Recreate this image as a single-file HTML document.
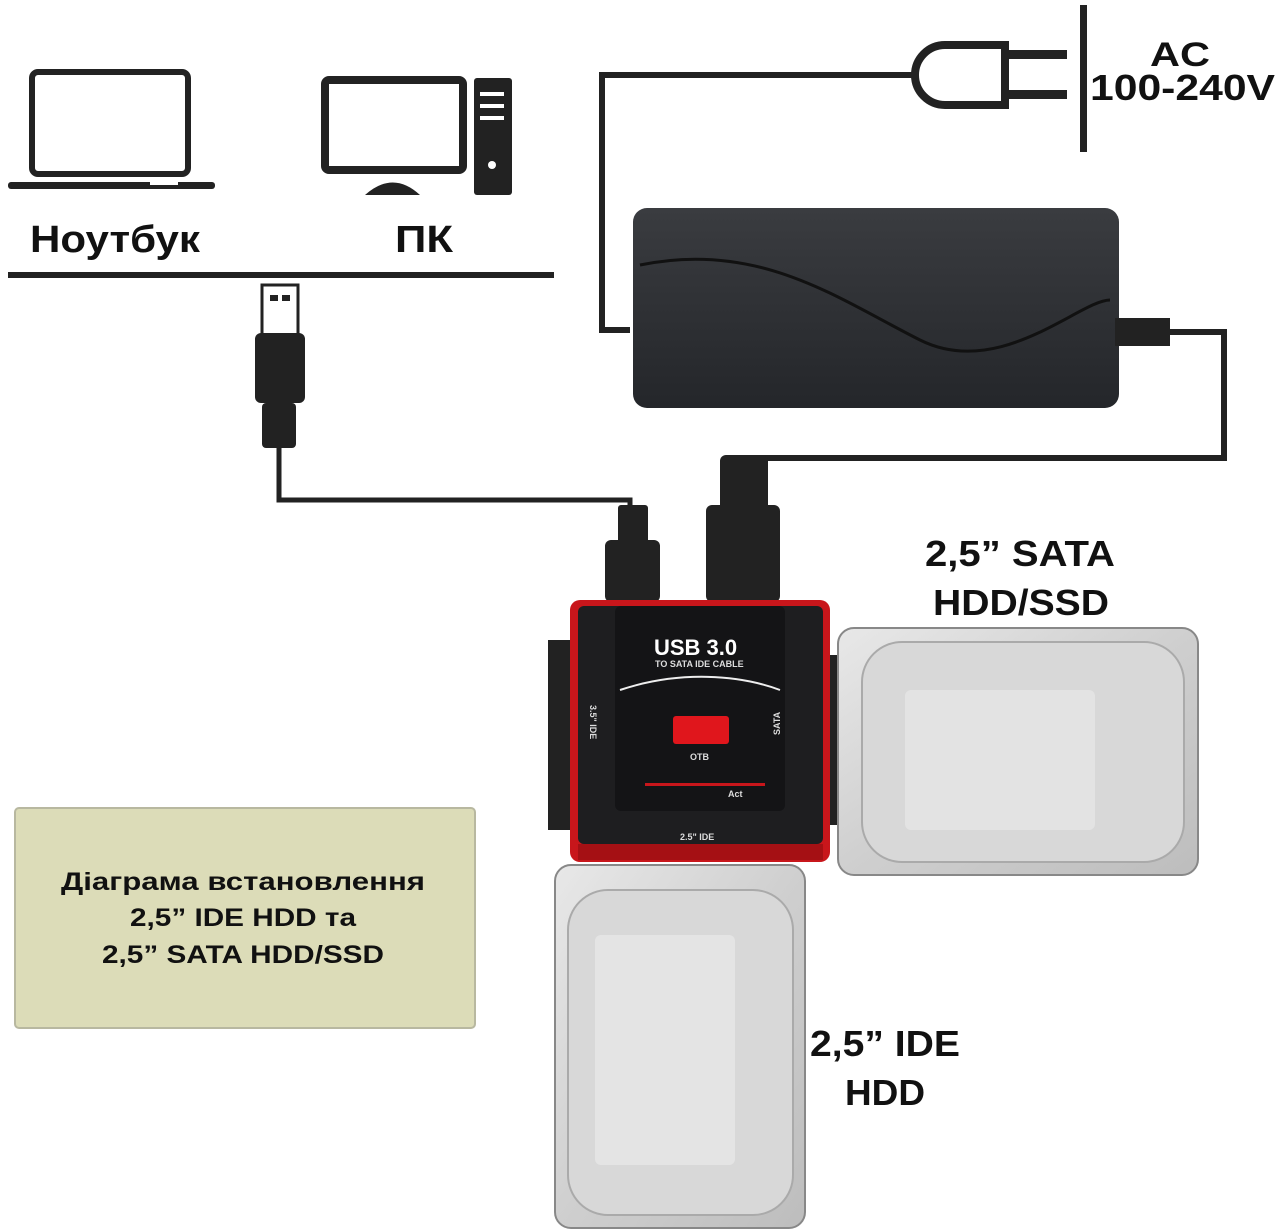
<!DOCTYPE html>
<html><head><meta charset="utf-8"><style>
html,body{margin:0;padding:0;background:#fff;width:1280px;height:1232px;overflow:hidden}
svg{display:block}
text{font-family:"Liberation Sans",sans-serif;font-weight:bold;fill:#111}
</style></head><body>
<svg width="1280" height="1232" viewBox="0 0 1280 1232">
<defs>
<linearGradient id="hdd" x1="0" y1="0" x2="1" y2="1"><stop offset="0" stop-color="#e8e8e8"/><stop offset="0.5" stop-color="#cfcfcf"/><stop offset="1" stop-color="#bdbdbd"/></linearGradient>
<linearGradient id="brick" x1="0" y1="0" x2="0" y2="1"><stop offset="0" stop-color="#3a3c40"/><stop offset="1" stop-color="#24262a"/></linearGradient>
</defs>
<rect x="32" y="72" width="156" height="102" rx="6" fill="none" stroke="#222" stroke-width="6"/>
<rect x="8" y="182" width="207" height="7" rx="3" fill="#222"/>
<rect x="150" y="182" width="28" height="3" fill="#fff"/>
<rect x="325" y="80" width="138" height="90" rx="4" fill="none" stroke="#222" stroke-width="8"/>
<path d="M365 195 Q393 170 420 195 Z" fill="#222"/>
<rect x="474" y="78" width="38" height="117" rx="3" fill="#222"/>
<rect x="480" y="92" width="24" height="4" fill="#fff"/><rect x="480" y="104" width="24" height="4" fill="#fff"/><rect x="480" y="116" width="24" height="4" fill="#fff"/>
<circle cx="492" cy="165" r="4" fill="#fff"/>
<text x="30" y="252" font-size="38" textLength="170" lengthAdjust="spacingAndGlyphs">Ноутбук</text>
<text x="395" y="252" font-size="38" textLength="58" lengthAdjust="spacingAndGlyphs">ПК</text>
<rect x="8" y="272" width="546" height="6" fill="#222"/>
<rect x="262" y="285" width="36" height="50" fill="#fff" stroke="#222" stroke-width="3"/>
<rect x="270" y="295" width="8" height="6" fill="#222"/><rect x="282" y="295" width="8" height="6" fill="#222"/>
<rect x="255" y="333" width="50" height="70" rx="6" fill="#222"/>
<rect x="262" y="403" width="34" height="45" rx="4" fill="#222"/>
<path d="M279 448 V500 H630 V520" fill="none" stroke="#222" stroke-width="5"/>
<rect x="618" y="505" width="30" height="40" rx="3" fill="#222"/>
<rect x="605" y="540" width="55" height="62" rx="6" fill="#222"/>
<path d="M630 330 H602 V75 H915" fill="none" stroke="#222" stroke-width="6"/>
<path d="M945 45 H1005 V105 H945 A30 30 0 0 1 945 45 Z" fill="#fff" stroke="#222" stroke-width="8"/>
<rect x="1005" y="50" width="62" height="9" fill="#222"/><rect x="1005" y="90" width="62" height="9" fill="#222"/>
<rect x="1080" y="5" width="7" height="147" fill="#222"/>
<text x="1150" y="66" font-size="34" textLength="60" lengthAdjust="spacingAndGlyphs">AC</text>
<text x="1090" y="100" font-size="36" textLength="185" lengthAdjust="spacingAndGlyphs">100-240V</text>
<rect x="633" y="208" width="486" height="200" rx="14" fill="url(#brick)"/>
<path d="M640 265 C760 240 840 300 920 340 C1000 380 1080 300 1110 300" fill="none" stroke="#111" stroke-width="3"/>
<rect x="1115" y="318" width="55" height="28" fill="#222"/>
<path d="M1168 332 H1224 V458 H742 V470" fill="none" stroke="#222" stroke-width="6"/>
<rect x="720" y="455" width="48" height="60" rx="6" fill="#222"/>
<rect x="706" y="505" width="74" height="97" rx="6" fill="#222"/>
<rect x="548" y="640" width="25" height="190" fill="#222"/>
<rect x="826" y="655" width="14" height="170" fill="#222"/>
<rect x="570" y="600" width="260" height="262" rx="10" fill="#c8161b"/>
<rect x="578" y="606" width="245" height="238" rx="6" fill="#1e1e20"/>
<rect x="615" y="606" width="170" height="205" rx="6" fill="#141416"/>
<rect x="578" y="844" width="245" height="16" fill="#a51014"/>
<text x="654" y="655" font-size="22" style="fill:#fff">USB 3.0</text>
<text x="655" y="667" font-size="9" style="fill:#ddd">TO SATA IDE CABLE</text>
<path d="M620 690 C680 670 740 675 780 690" fill="none" stroke="#eee" stroke-width="2"/>
<rect x="673" y="716" width="56" height="28" rx="3" fill="#e0161c"/>
<text x="690" y="760" font-size="9" style="fill:#ddd">OTB</text>
<rect x="645" y="783" width="120" height="3" fill="#c8161b"/>
<text x="728" y="797" font-size="9" style="fill:#ddd">Act</text>
<text x="680" y="840" font-size="9" style="fill:#ddd">2.5" IDE</text>
<text x="590" y="705" font-size="9" style="fill:#ddd" transform="rotate(90 590 705)">3.5" IDE</text>
<text x="803" y="712" font-size="9" style="fill:#ddd" transform="rotate(-90 803 735)">SATA</text>
<rect x="838" y="628" width="360" height="247" rx="16" fill="url(#hdd)" stroke="#888" stroke-width="2"/>
<rect x="862" y="642" width="322" height="220" rx="40" fill="#d8d8d8" stroke="#aaa" stroke-width="2"/>
<rect x="905" y="690" width="190" height="140" rx="6" fill="#e4e4e4" opacity="0.9"/>
<rect x="555" y="865" width="250" height="363" rx="16" fill="url(#hdd)" stroke="#888" stroke-width="2"/>
<rect x="568" y="890" width="225" height="325" rx="40" fill="#d8d8d8" stroke="#aaa" stroke-width="2"/>
<rect x="595" y="935" width="140" height="230" rx="6" fill="#e6e6e6" opacity="0.9"/>
<text x="925" y="566" font-size="36" textLength="190" lengthAdjust="spacingAndGlyphs">2,5” SATA</text>
<text x="933" y="615" font-size="36" textLength="176" lengthAdjust="spacingAndGlyphs">HDD/SSD</text>
<text x="810" y="1056" font-size="36" textLength="150" lengthAdjust="spacingAndGlyphs">2,5” IDE</text>
<text x="845" y="1105" font-size="36" textLength="80" lengthAdjust="spacingAndGlyphs">HDD</text>
<rect x="15" y="808" width="460" height="220" rx="4" fill="#dcdcb8" stroke="#b8b8a0" stroke-width="2"/>
<text x="243" y="890" font-size="25" text-anchor="middle" textLength="364" lengthAdjust="spacingAndGlyphs">Діаграма встановлення</text>
<text x="243" y="926" font-size="25" text-anchor="middle" textLength="226" lengthAdjust="spacingAndGlyphs">2,5” IDE HDD та</text>
<text x="243" y="963" font-size="25" text-anchor="middle" textLength="282" lengthAdjust="spacingAndGlyphs">2,5” SATA HDD/SSD</text>
</svg>
</body></html>
